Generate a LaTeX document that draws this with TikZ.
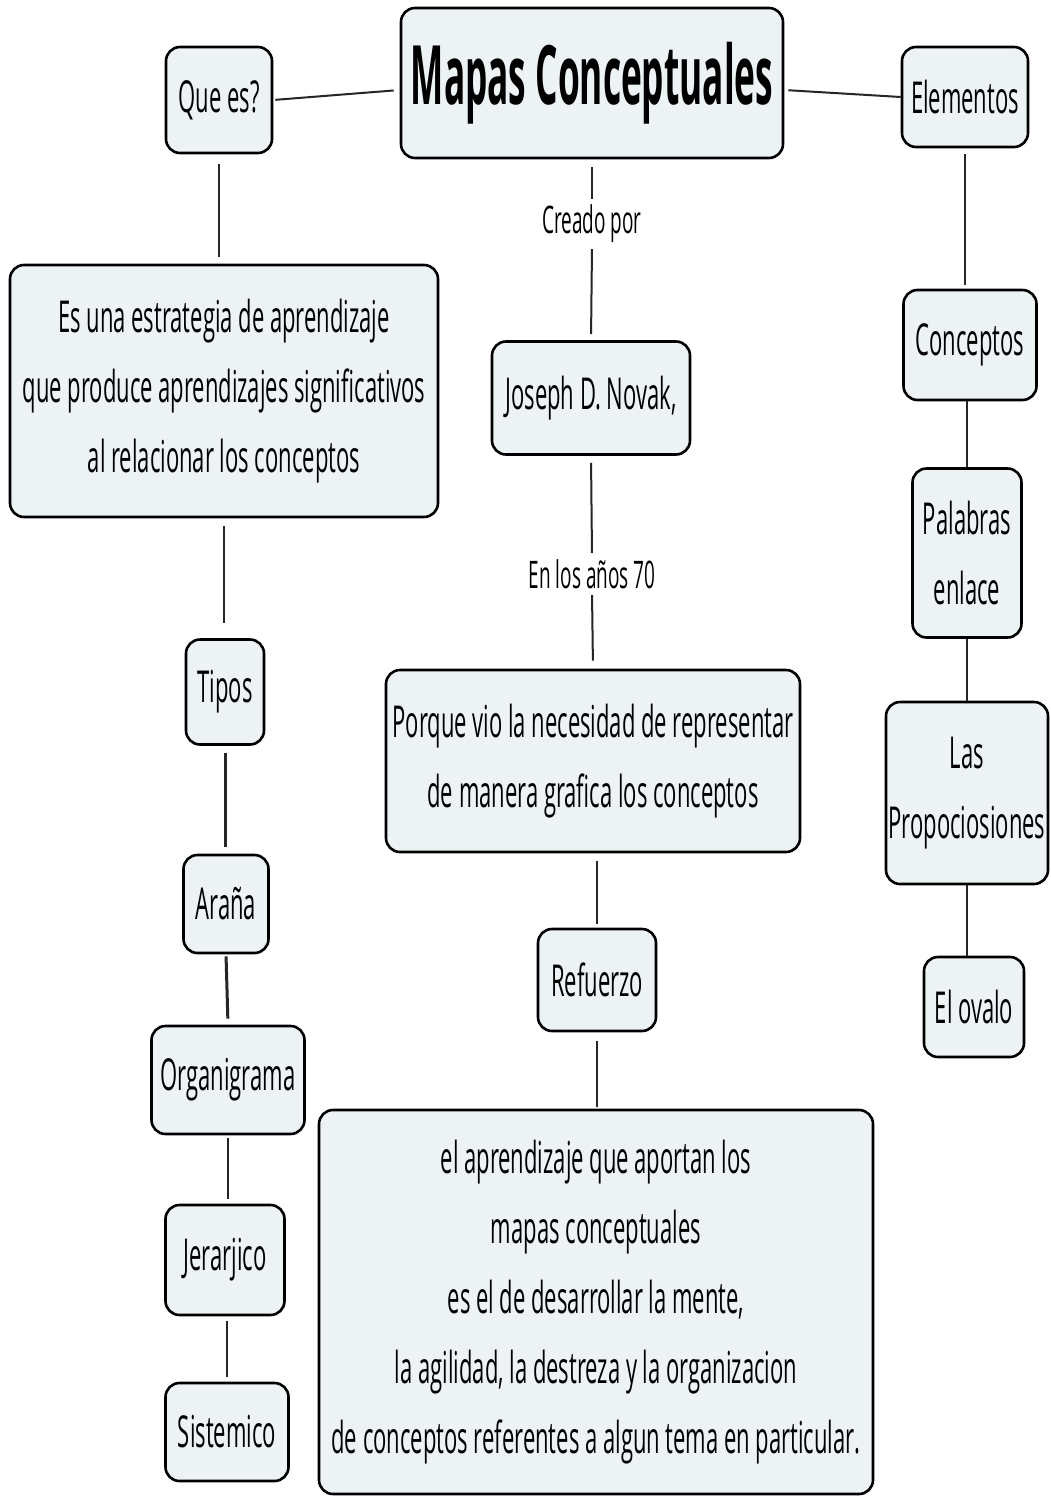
\documentclass[tikz,border=0pt]{standalone}
\usepackage{fontspec}
\setmainfont{Open Sans}[FakeStretch=0.5]
\newfontfamily\titlefont{Open Sans}[FakeStretch=0.43]
\begin{document}
\begin{tikzpicture}[x=1pt,y=-1pt,
  box/.style={draw=black, fill=boxfill, rounded corners=14pt, line width=2.6pt,
    align=center, inner sep=0pt, font=\fontsize{44}{70}\selectfont},
  lbl/.style={font=\fontsize{38}{44}\selectfont, inner sep=4pt},
  conn/.style={line width=2pt, draw=black!85}]
\definecolor{boxfill}{HTML}{EDF2F5}
\useasboundingbox (0,0) rectangle (1050,1496);
\fill[white] (0,0) rectangle (1050,1496);
% central column
\node[box, minimum width=382, minimum height=150, font=\titlefont\fontsize{82}{90}\selectfont\bfseries] (title) at (592,83) {Mapas Conceptuales};
\node[lbl] (creado) at (592,224) {Creado por};
\node[box, minimum width=198, minimum height=113] (joseph) at (591,398) {Joseph D. Novak,};
\node[lbl] (anos) at (592,574) {En los años 70};
\node[box, minimum width=414, minimum height=182] (porque) at (593,761) {Porque vio la necesidad de representar\\de manera grafica los conceptos};
\node[box, minimum width=118, minimum height=102] (refuerzo) at (597,980) {Refuerzo};
\node[box, minimum width=554, minimum height=384] (big) at (596,1302) {el aprendizaje que aportan los\\mapas conceptuales\\es el de desarrollar la mente,\\la agilidad, la destreza y la organizacion\\de conceptos referentes a algun tema en particular.};
% left column
\node[box, minimum width=106, minimum height=106] (quees) at (219,100) {Que es?};
\node[box, minimum width=428, minimum height=252] (estr) at (224,391) {Es una estrategia de aprendizaje\\que produce aprendizajes significativos\\al relacionar los conceptos};
\node[box, minimum width=78, minimum height=105] (tipos) at (225,692) {Tipos};
\node[box, minimum width=85, minimum height=98] (arana) at (226,904) {Araña};
\node[box, minimum width=153, minimum height=108] (organi) at (228,1080) {Organigrama};
\node[box, minimum width=119, minimum height=110] (jerar) at (225,1260) {Jerarjico};
\node[box, minimum width=123, minimum height=98] (sistem) at (227,1432) {Sistemico};
% right column
\node[box, minimum width=126, minimum height=100] (elem) at (965,97) {Elementos};
\node[box, minimum width=133, minimum height=110] (concep) at (970,345) {Conceptos};
\node[box, minimum width=109, minimum height=169] (palabras) at (967,553) {Palabras\\enlace};
\node[box, minimum width=162, minimum height=182] (props) at (967,793) {Las\\Propociosiones};
\node[box, minimum width=100, minimum height=100] (ovalo) at (974,1007) {El ovalo};
% connectors
\draw[conn, shorten <=2pt, shorten >=6pt] (quees.east) -- (title.west |- 0,90);
\draw[conn, shorten <=4pt, shorten >=0pt] (title.east |- 0,90) -- (elem.west);
\draw[conn, shorten <=8pt, shorten >=2pt] (title.south) -- (creado.north);
\draw[conn, shorten <=2pt, shorten >=6pt] (creado.south) -- (joseph.north);
\draw[conn, shorten <=7pt, shorten >=2pt] (joseph.south) -- (anos.north);
\draw[conn, shorten <=2pt, shorten >=8pt] (anos.south) -- (porque.north);
\draw[conn, shorten <=8pt, shorten >=4pt] (porque.south -| refuerzo) -- (refuerzo.north);
\draw[conn, shorten <=9pt, shorten >=2pt] (refuerzo.south) -- (refuerzo.south |- big.north);
\draw[conn, shorten <=10pt, shorten >=7pt] (quees.south) -- (quees.south |- estr.north);
\draw[conn, shorten <=8pt, shorten >=15pt] (estr.south) -- (estr.south |- tipos.north);
\draw[conn, line width=3pt, shorten <=7pt, shorten >=7pt] (tipos.south) -- (tipos.south |- arana.north);
\draw[conn, line width=3pt, shorten <=2pt, shorten >=6pt] (arana.south) -- (organi.north);
\draw[conn, shorten <=3pt, shorten >=5pt] (organi.south) -- (organi.south |- jerar.north);
\draw[conn, shorten <=5pt, shorten >=5pt] (sistem.north |- jerar.south) -- (sistem.north);
\draw[conn, shorten <=6pt, shorten >=4pt] (elem.south) -- (elem.south |- concep.north);
\draw[conn] (palabras.north |- concep.south) -- (palabras.north);
\draw[conn, line width=2.6pt] (palabras.south) -- (palabras.south |- props.north);
\draw[conn] (props.south) -- (props.south |- ovalo.north);
\end{tikzpicture}
\end{document}
